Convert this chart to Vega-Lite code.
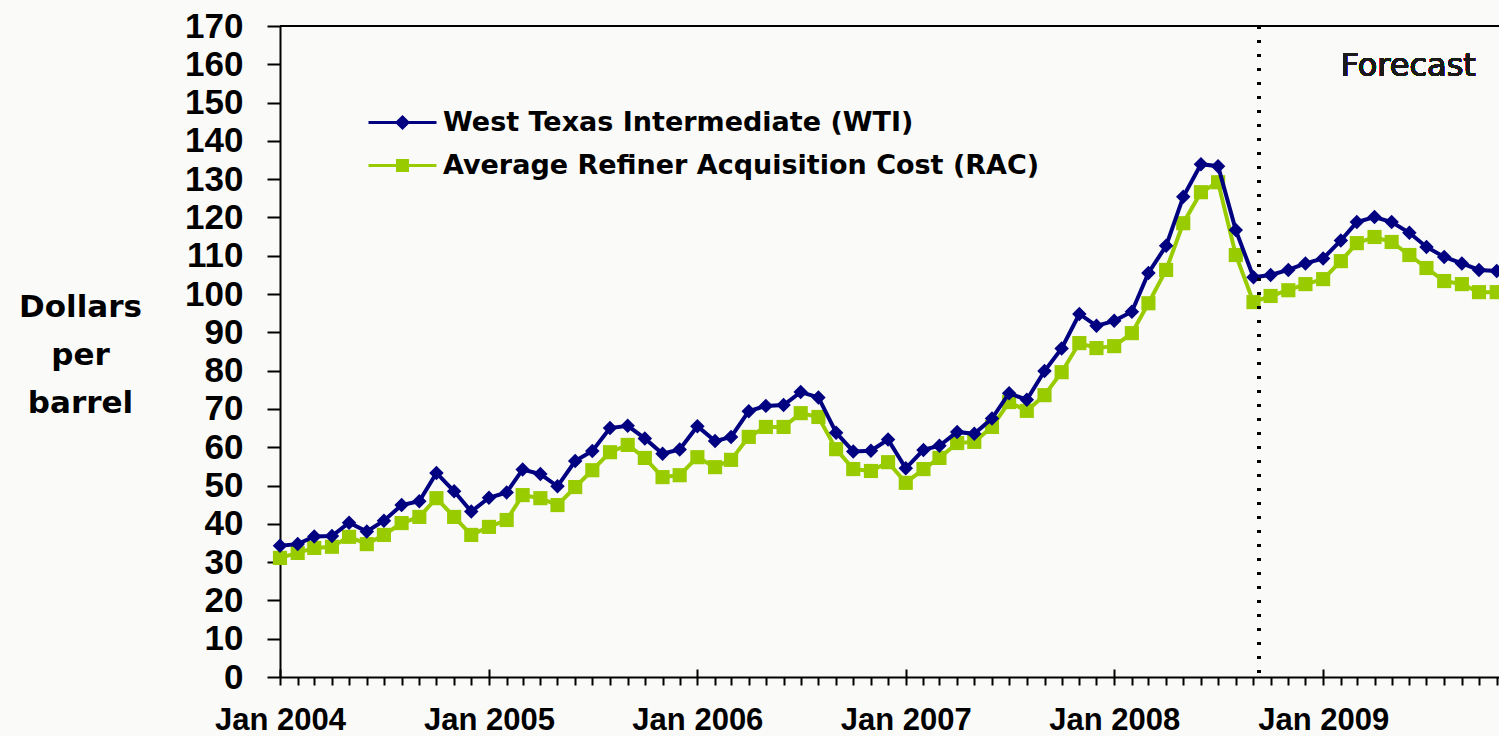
{
  "$schema": "https://vega.github.io/schema/vega-lite/v6.json",
  "width": 1219,
  "height": 651,
  "autosize": {"type": "none"},
  "padding": {"left": 280, "top": 26, "right": 0, "bottom": 59},
  "background": "#fafaf9",
  "config": {
    "view": {"stroke": null},
    "axisY": {
      "tickCount": 17,
      "grid": false,
      "tickSize": 13,
      "tickColor": "black",
      "tickWidth": 2,
      "domainColor": "black",
      "domainWidth": 2,
      "labelFont": "Liberation Sans",
      "labelFontSize": 35,
      "labelFontWeight": "bold",
      "labelColor": "black",
      "labelPadding": 24,
      "labelOverlap": false,
      "labelFlush": false
    },
    "legend": {
      "orient": "none",
      "legendX": 109,
      "legendY": 83,
      "padding": 0,
      "rowPadding": 15,
      "labelFont": "DejaVu Sans",
      "labelFontSize": 27,
      "labelFontWeight": "bold",
      "labelColor": "black",
      "labelLimit": 2000,
      "labelOffset": 27,
      "symbolSize": 100,
      "symbolStrokeWidth": 3
    }
  },
  "data": {
    "values": [
      {"date": "2004-01-01", "WTI": 34.3, "RAC": 31.1},
      {"date": "2004-02-01", "WTI": 34.7, "RAC": 32.4},
      {"date": "2004-03-01", "WTI": 36.7, "RAC": 33.7},
      {"date": "2004-04-01", "WTI": 36.8, "RAC": 34.0},
      {"date": "2004-05-01", "WTI": 40.3, "RAC": 36.6},
      {"date": "2004-06-01", "WTI": 38.0, "RAC": 34.7},
      {"date": "2004-07-01", "WTI": 40.8, "RAC": 37.1},
      {"date": "2004-08-01", "WTI": 44.9, "RAC": 40.2},
      {"date": "2004-09-01", "WTI": 45.9, "RAC": 41.8},
      {"date": "2004-10-01", "WTI": 53.3, "RAC": 46.7},
      {"date": "2004-11-01", "WTI": 48.5, "RAC": 41.8},
      {"date": "2004-12-01", "WTI": 43.2, "RAC": 37.1},
      {"date": "2005-01-01", "WTI": 46.8, "RAC": 39.2},
      {"date": "2005-02-01", "WTI": 48.2, "RAC": 41.0},
      {"date": "2005-03-01", "WTI": 54.2, "RAC": 47.5},
      {"date": "2005-04-01", "WTI": 53.0, "RAC": 46.7},
      {"date": "2005-05-01", "WTI": 49.8, "RAC": 44.9},
      {"date": "2005-06-01", "WTI": 56.4, "RAC": 49.6},
      {"date": "2005-07-01", "WTI": 59.0, "RAC": 54.0},
      {"date": "2005-08-01", "WTI": 65.0, "RAC": 58.7},
      {"date": "2005-09-01", "WTI": 65.6, "RAC": 60.6},
      {"date": "2005-10-01", "WTI": 62.3, "RAC": 57.2},
      {"date": "2005-11-01", "WTI": 58.3, "RAC": 52.2},
      {"date": "2005-12-01", "WTI": 59.4, "RAC": 52.7},
      {"date": "2006-01-01", "WTI": 65.5, "RAC": 57.4},
      {"date": "2006-02-01", "WTI": 61.6, "RAC": 54.8},
      {"date": "2006-03-01", "WTI": 62.7, "RAC": 56.7},
      {"date": "2006-04-01", "WTI": 69.4, "RAC": 62.7},
      {"date": "2006-05-01", "WTI": 70.8, "RAC": 65.3},
      {"date": "2006-06-01", "WTI": 71.0, "RAC": 65.3},
      {"date": "2006-07-01", "WTI": 74.4, "RAC": 68.9},
      {"date": "2006-08-01", "WTI": 73.0, "RAC": 67.9},
      {"date": "2006-09-01", "WTI": 63.8, "RAC": 59.5},
      {"date": "2006-10-01", "WTI": 58.9, "RAC": 54.3},
      {"date": "2006-11-01", "WTI": 59.1, "RAC": 53.8},
      {"date": "2006-12-01", "WTI": 62.0, "RAC": 56.1},
      {"date": "2007-01-01", "WTI": 54.5, "RAC": 50.7},
      {"date": "2007-02-01", "WTI": 59.3, "RAC": 54.3},
      {"date": "2007-03-01", "WTI": 60.4, "RAC": 57.2},
      {"date": "2007-04-01", "WTI": 64.0, "RAC": 61.1},
      {"date": "2007-05-01", "WTI": 63.5, "RAC": 61.4},
      {"date": "2007-06-01", "WTI": 67.5, "RAC": 65.3},
      {"date": "2007-07-01", "WTI": 74.1, "RAC": 71.8},
      {"date": "2007-08-01", "WTI": 72.4, "RAC": 69.5},
      {"date": "2007-09-01", "WTI": 79.9, "RAC": 73.6},
      {"date": "2007-10-01", "WTI": 85.8, "RAC": 79.6},
      {"date": "2007-11-01", "WTI": 94.8, "RAC": 87.2},
      {"date": "2007-12-01", "WTI": 91.7, "RAC": 85.9},
      {"date": "2008-01-01", "WTI": 93.0, "RAC": 86.4},
      {"date": "2008-02-01", "WTI": 95.4, "RAC": 89.8},
      {"date": "2008-03-01", "WTI": 105.5, "RAC": 97.6},
      {"date": "2008-04-01", "WTI": 112.6, "RAC": 106.3},
      {"date": "2008-05-01", "WTI": 125.4, "RAC": 118.5},
      {"date": "2008-06-01", "WTI": 133.9, "RAC": 126.6},
      {"date": "2008-07-01", "WTI": 133.4, "RAC": 129.2},
      {"date": "2008-08-01", "WTI": 116.7, "RAC": 110.2},
      {"date": "2008-09-01", "WTI": 104.4, "RAC": 97.9},
      {"date": "2008-10-01", "WTI": 105.0, "RAC": 99.5},
      {"date": "2008-11-01", "WTI": 106.3, "RAC": 101.0},
      {"date": "2008-12-01", "WTI": 108.0, "RAC": 102.6},
      {"date": "2009-01-01", "WTI": 109.3, "RAC": 103.9},
      {"date": "2009-02-01", "WTI": 114.0, "RAC": 108.6},
      {"date": "2009-03-01", "WTI": 118.8, "RAC": 113.3},
      {"date": "2009-04-01", "WTI": 120.1, "RAC": 114.9},
      {"date": "2009-05-01", "WTI": 118.8, "RAC": 113.6},
      {"date": "2009-06-01", "WTI": 116.0, "RAC": 110.2},
      {"date": "2009-07-01", "WTI": 112.3, "RAC": 106.8},
      {"date": "2009-08-01", "WTI": 109.7, "RAC": 103.4},
      {"date": "2009-09-01", "WTI": 108.0, "RAC": 102.6},
      {"date": "2009-10-01", "WTI": 106.3, "RAC": 100.5},
      {"date": "2009-11-01", "WTI": 106.0, "RAC": 100.5}
    ]
  },
  "resolve": {"axis": {"x": "independent"}},
  "layer": [
    {
      "mark": {"type": "line", "color": "#99cc00", "strokeWidth": 4},
      "encoding": {
        "x": {
          "field": "date", "type": "temporal",
          "scale": {"domain": ["2004-01-01", "2009-11-05"]},
          "axis": {
            "orient": "bottom",
            "title": null,
            "grid": false,
            "tickCount": {"interval": "month", "step": 1},
            "labelExpr": "month(datum.value) == 0 ? 'Jan ' + year(datum.value) : ''",
            "labelFont": "Liberation Sans",
            "labelFontSize": 31,
            "labelFontWeight": "bold",
            "labelColor": "black",
            "labelBaseline": "top",
            "labelAlign": "center",
            "labelPadding": 20,
            "labelFlush": false,
            "labelOverlap": false,
            "labelBound": false,
            "tickSize": 8,
            "tickColor": "black",
            "tickWidth": 2,
            "domainColor": "black",
            "domainWidth": 2
          }
        },
        "y": {
          "field": "RAC", "type": "quantitative",
          "scale": {"domain": [0, 170], "nice": false},
          "axis": {
            "title": ["Dollars", "per", "barrel"],
            "titleAngle": 0,
            "titleAlign": "center",
            "titleBaseline": "alphabetic",
            "titleX": -200,
            "titleY": 290,
            "titleFont": "DejaVu Sans",
            "titleFontSize": 31,
            "titleFontWeight": "bold",
            "titleColor": "black",
            "titleLineHeight": 48
          }
        }
      }
    },
    {
      "mark": {"type": "point", "shape": "square", "filled": true, "color": "#99cc00", "size": 200, "opacity": 1},
      "encoding": {
        "x": {"field": "date", "type": "temporal", "axis": null},
        "y": {"field": "RAC", "type": "quantitative"}
      }
    },
    {
      "mark": {"type": "line", "color": "#000080", "strokeWidth": 4},
      "encoding": {
        "x": {
          "field": "date", "type": "temporal",
          "axis": {
            "orient": "bottom",
            "title": null,
            "grid": false,
            "labels": false,
            "domain": false,
            "tickCount": {"interval": "year", "step": 1},
            "tickSize": -8,
            "tickColor": "black",
            "tickWidth": 2
          }
        },
        "y": {"field": "WTI", "type": "quantitative"}
      }
    },
    {
      "mark": {"type": "point", "shape": "diamond", "filled": true, "color": "#000080", "size": 210, "opacity": 1},
      "encoding": {
        "x": {"field": "date", "type": "temporal", "axis": null},
        "y": {"field": "WTI", "type": "quantitative"}
      }
    },
    {
      "mark": {"type": "rule", "color": "black", "strokeWidth": 2},
      "encoding": {
        "y": {"datum": 170, "type": "quantitative"}
      }
    },
    {
      "mark": {"type": "rule", "color": "black", "strokeWidth": 3, "strokeDash": [3, 11]},
      "encoding": {
        "x": {"datum": {"year": 2008, "month": 9, "date": 11}, "type": "temporal", "axis": null}
      }
    },
    {
      "mark": {"type": "text", "text": "Forecast", "font": "DejaVu Sans", "fontSize": 32, "color": "#1a1a1a", "align": "center", "baseline": "middle"},
      "encoding": {
        "x": {"datum": {"year": 2009, "month": 5, "date": 30}, "type": "temporal", "axis": null},
        "y": {"datum": 159.5, "type": "quantitative"}
      }
    },
    {
      "data": {"values": []},
      "mark": {"type": "point", "filled": true, "strokeWidth": 3, "opacity": 1},
      "encoding": {
        "color": {
          "field": "series", "type": "nominal",
          "scale": {"domain": ["West Texas Intermediate (WTI)", "Average Refiner Acquisition Cost (RAC)"], "range": ["#000080", "#99cc00"]},
          "legend": {"title": null}
        },
        "stroke": {
          "field": "series", "type": "nominal",
          "scale": {"domain": ["West Texas Intermediate (WTI)", "Average Refiner Acquisition Cost (RAC)"], "range": ["#000080", "#99cc00"]},
          "legend": {"title": null}
        },
        "shape": {
          "field": "series", "type": "nominal",
          "scale": {"domain": ["West Texas Intermediate (WTI)", "Average Refiner Acquisition Cost (RAC)"], "range": ["M-6.8,0H6.8M0,-1.1L1.1,0L0,1.1L-1.1,0Z", "M-6.8,0H6.8M-1,-1H1V1H-1Z"]},
          "legend": {"title": null}
        }
      }
    }
  ]
}
